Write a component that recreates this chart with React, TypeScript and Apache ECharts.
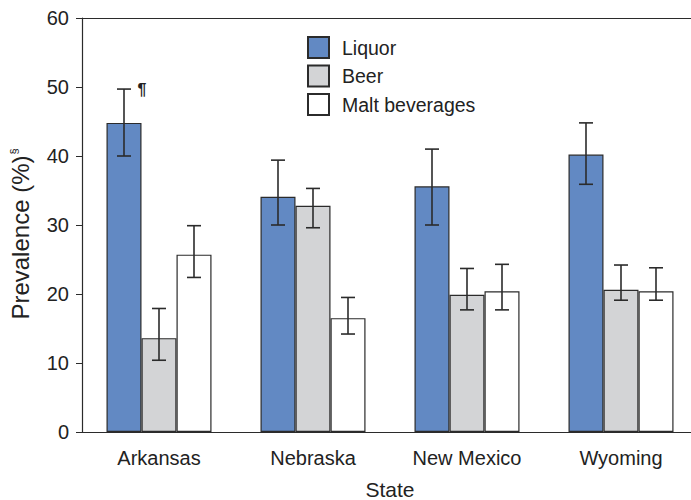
import React, { useEffect, useRef } from "react";
import * as echarts from "echarts";

const states = ["Arkansas", "Nebraska", "New Mexico", "Wyoming"];
const seriesNames = ["Liquor", "Beer", "Malt beverages"];
const seriesColors = ["#6289c3", "#d3d4d6", "#ffffff"];

const liquor = [44.8, 34.1, 35.6, 40.2];
const beer = [13.6, 32.8, 19.9, 20.6];
const malt = [25.7, 16.5, 20.4, 20.4];

const liquorLow = [40.0, 30.0, 30.0, 35.9];
const liquorHigh = [49.7, 39.4, 41.0, 44.8];
const beerLow = [10.4, 29.6, 17.7, 19.1];
const beerHigh = [17.9, 35.3, 23.7, 24.2];
const maltLow = [22.4, 14.2, 17.7, 19.1];
const maltHigh = [29.9, 19.5, 24.3, 23.8];

// footnote mark beside the Arkansas liquor interval
const footnoteState = 0;
const footnoteMark = "¶";

const yTicks = [0, 10, 20, 30, 40, 50, 60];

const FONT = "'Liberation Sans', Arial, Helvetica, sans-serif";
const INK = "#2b2b2b";
const TEXT = "#222";
const BAR_FRACTION = 35 / 154;

export default function App() {
  const ref = useRef<HTMLDivElement>(null);

  useEffect(() => {
    if (!ref.current) return;
    const chart = echarts.init(ref.current, undefined, { renderer: "svg" });

    const values = [liquor, beer, malt];
    const lows = [liquorLow, beerLow, maltLow];
    const highs = [liquorHigh, beerHigh, maltHigh];

    // [category index, series index, low, high]
    const errorData: number[][] = [];
    for (let s = 0; s < 3; s++) {
      for (let c = 0; c < states.length; c++) {
        errorData.push([c, s, lows[s][c], highs[s][c]]);
      }
    }

    const barSeries = seriesNames.map((name, i) => {
      const series: any = {
        name,
        type: "bar",
        data: values[i],
        barWidth: (BAR_FRACTION * 100).toFixed(2) + "%",
        barGap: "0%",
        itemStyle: {
          color: seriesColors[i],
          borderColor: INK,
          borderWidth: 1.2,
        },
        z: 2,
      };
      if (i === 0) {
        series.markPoint = {
          symbol: "circle",
          symbolSize: 0,
          silent: true,
          data: [{ coord: [footnoteState, liquorHigh[footnoteState]], value: footnoteMark }],
          label: {
            show: true,
            position: "inside",
            formatter: footnoteMark,
            offset: [18, 0],
            color: TEXT,
            fontSize: 16,
            fontWeight: "bold",
            fontFamily: FONT,
          },
        };
      }
      return series;
    });

    chart.setOption({
      animation: false,
      textStyle: { fontFamily: FONT, color: TEXT },
      // plot area runs past the right edge of the visible frame
      grid: { left: 82, right: 0, top: 18, bottom: 68, outerBoundsMode: "none", containLabel: false },
      legend: {
        orient: "vertical",
        left: 307,
        top: 36,
        padding: 0,
        itemWidth: 21,
        itemHeight: 21,
        itemGap: 5.5,
        icon: "rect",
        data: seriesNames,
        textStyle: { fontSize: 19.5, color: TEXT, fontFamily: FONT, padding: [0, 0, 0, 8] },
      },
      xAxis: [
        {
          type: "category",
          data: states,
          name: "State",
          nameLocation: "middle",
          nameGap: 47,
          nameTextStyle: { fontSize: 21, color: TEXT, fontFamily: FONT },
          axisLine: { lineStyle: { color: INK, width: 1.2 } },
          axisTick: { alignWithLabel: true, length: 5, lineStyle: { color: INK } },
          axisLabel: { fontSize: 20, color: TEXT, margin: 16, fontFamily: FONT },
        },
        {
          type: "category",
          data: states,
          position: "top",
          axisLine: { show: true, lineStyle: { color: INK, width: 1.2 } },
          axisTick: { show: false },
          axisLabel: { show: false },
        },
      ],
      yAxis: {
        type: "value",
        min: yTicks[0],
        max: yTicks[yTicks.length - 1],
        interval: 10,
        name: "{a|Prevalence (%)}{b|§}",
        nameLocation: "middle",
        nameGap: 50,
        nameTextStyle: {
          rich: {
            a: { fontSize: 24, color: TEXT, fontFamily: FONT },
            b: {
              fontSize: 11,
              color: TEXT,
              fontFamily: FONT,
              verticalAlign: "top",
              padding: [0, 18, 12, 1],
            },
          },
        },
        splitLine: { show: false },
        axisLine: { show: true, lineStyle: { color: INK, width: 1.2 } },
        axisTick: { show: true, length: 6, lineStyle: { color: INK } },
        axisLabel: { fontSize: 20, color: TEXT, margin: 13, fontFamily: FONT },
      },
      series: [
        ...barSeries,
        {
          type: "custom",
          name: "error",
          data: errorData,
          encode: { x: 0, y: [2, 3] },
          z: 5,
          silent: true,
          renderItem: (params: any, api: any) => {
            const cat = api.value(0);
            const s = api.value(1);
            const lo = api.value(2);
            const hi = api.value(3);
            const catW = api.size([1, 0])[0];
            const barW = catW * BAR_FRACTION;
            const pLo = api.coord([cat, lo]);
            const pHi = api.coord([cat, hi]);
            const x = pLo[0] + (s - 1) * barW;
            const cap = 7;
            const style = { stroke: INK, lineWidth: 1.6 };
            return {
              type: "group",
              children: [
                { type: "line", shape: { x1: x, y1: pLo[1], x2: x, y2: pHi[1] }, style },
                { type: "line", shape: { x1: x - cap, y1: pHi[1], x2: x + cap, y2: pHi[1] }, style },
                { type: "line", shape: { x1: x - cap, y1: pLo[1], x2: x + cap, y2: pLo[1] }, style },
              ],
            };
          },
        },
      ],
    });

    return () => chart.dispose();
  }, []);

  return (
    <div
      style={{
        position: "fixed",
        left: 0,
        top: 0,
        width: 691,
        height: 500,
        overflow: "hidden",
        background: "#fff",
      }}
    >
      <div ref={ref} style={{ width: 698, height: 500 }} />
    </div>
  );
}
